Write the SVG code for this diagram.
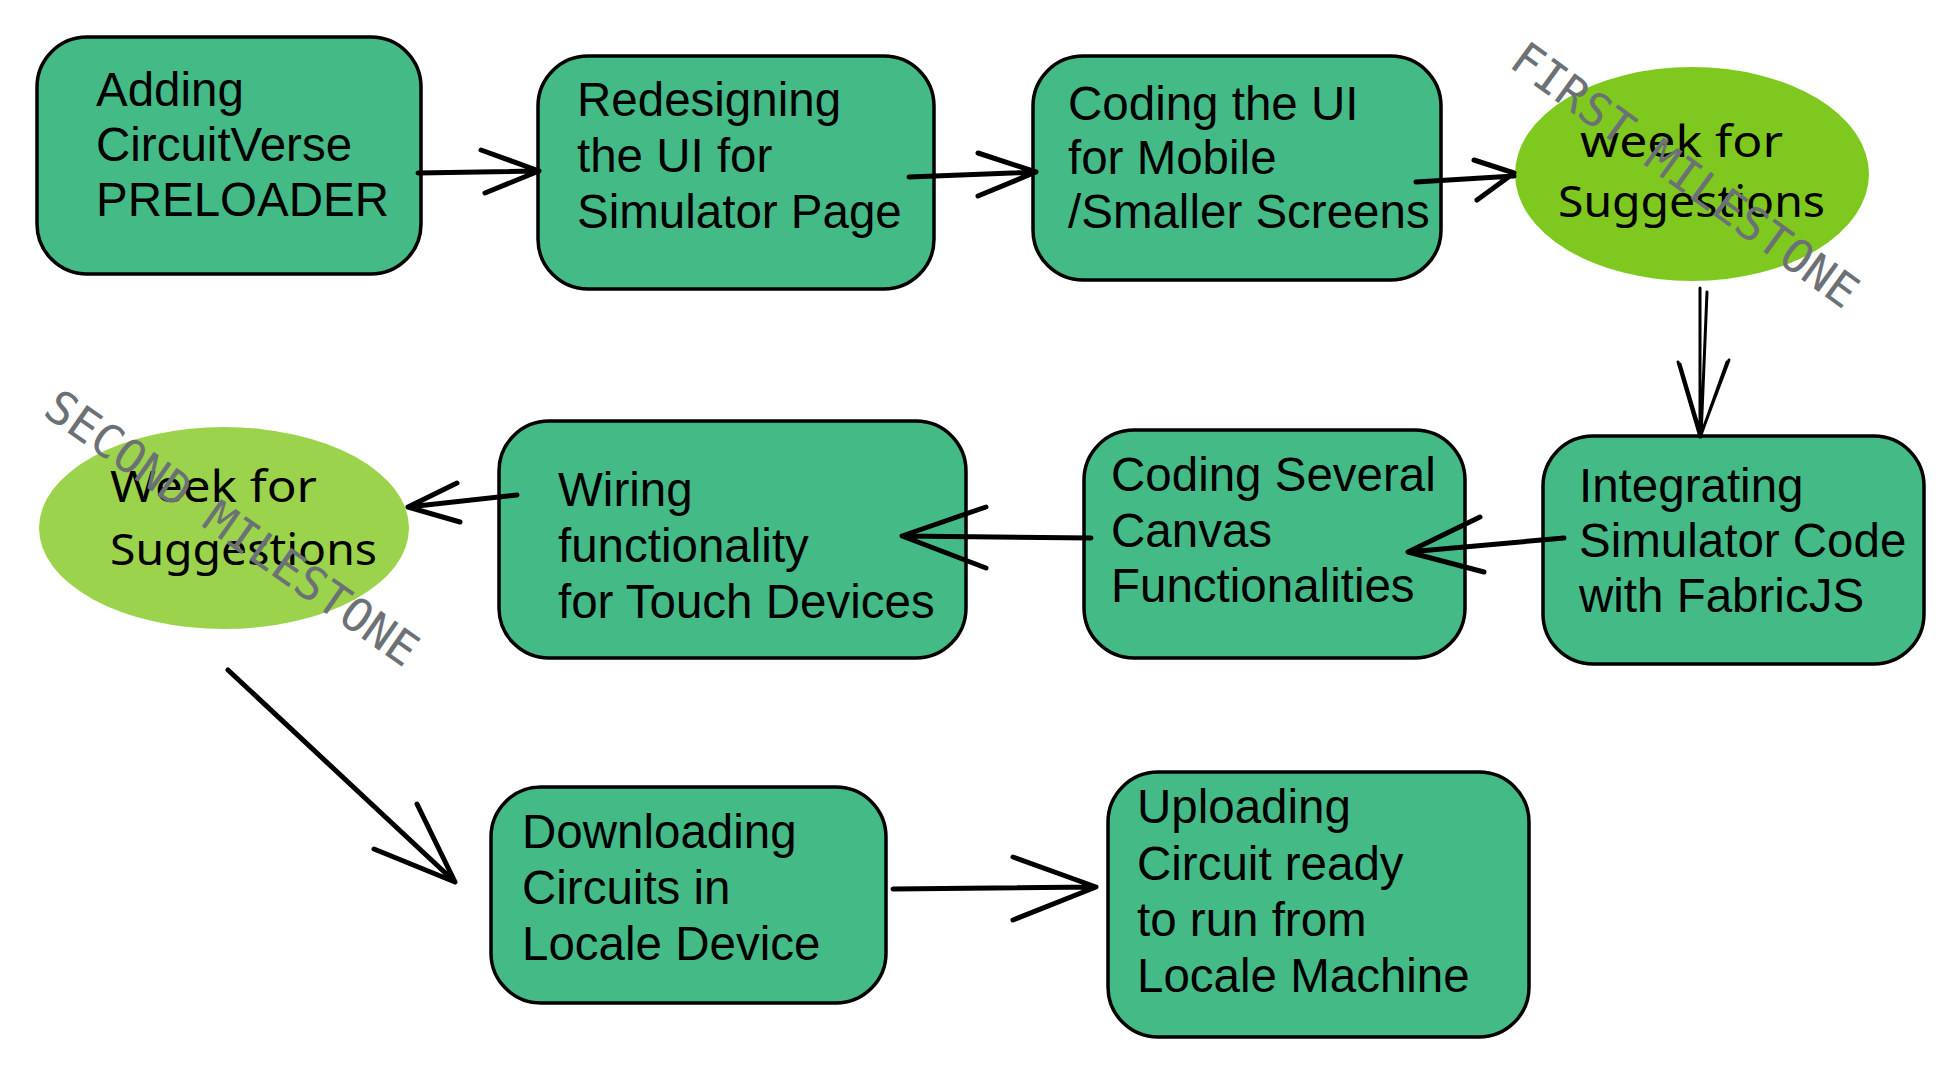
<svg xmlns="http://www.w3.org/2000/svg" width="1953" height="1066" viewBox="0 0 1953 1066">
<style>
.box{fill:#44bb86;stroke:#000;stroke-width:3.5}
.t{font-family:"Liberation Sans",Arial,sans-serif;font-size:47.5px;fill:#000}
.hw{font-family:"Noto Sans","DejaVu Sans",sans-serif;font-size:44px;fill:#000}
.ms{font-family:"DejaVu Sans Mono","Liberation Mono",monospace;font-size:46px;fill:#6c7176}
.c{fill:none;stroke:#000;stroke-width:5;stroke-linecap:round;stroke-linejoin:round}
.thin{fill:none;stroke:#000;stroke-width:3;stroke-linecap:round;stroke-linejoin:round}
</style>
<rect width="1953" height="1066" fill="#fff"/>
<g id="n1"><rect class="box" x="37" y="37" width="384" height="237" rx="50"/>
<text class="t" x="96" y="106">Adding</text><text class="t" x="96" y="161">CircuitVerse</text><text class="t" x="96" y="216">PRELOADER</text></g>
<g id="n2"><rect class="box" x="538" y="56" width="396" height="233" rx="50"/>
<text class="t" x="577" y="116">Redesigning</text><text class="t" x="577" y="172">the UI for</text><text class="t" x="577" y="228">Simulator Page</text></g>
<g id="n3"><rect class="box" x="1033" y="56" width="408" height="224" rx="50"/>
<text class="t" x="1068" y="120">Coding the UI</text><text class="t" x="1068" y="174">for Mobile</text><text class="t" x="1068" y="228">/Smaller Screens</text></g>
<g id="e1"><ellipse cx="1692" cy="174" rx="177" ry="107" fill="#7ec81f"/>
<text class="hw" x="1580" y="157" textLength="203" lengthAdjust="spacingAndGlyphs">week for</text>
<text class="hw" x="1558" y="217" textLength="267" lengthAdjust="spacingAndGlyphs">Suggestions</text></g>
<g id="n4"><rect class="box" x="1543" y="436" width="381" height="228" rx="50"/>
<text class="t" x="1579" y="502">Integrating</text><text class="t" x="1579" y="557">Simulator Code</text><text class="t" x="1579" y="612">with FabricJS</text></g>
<g id="n5"><rect class="box" x="1084" y="430" width="381" height="228" rx="50"/>
<text class="t" x="1111" y="491">Coding Several</text><text class="t" x="1111" y="547">Canvas</text><text class="t" x="1111" y="602">Functionalities</text></g>
<g id="n6"><rect class="box" x="499" y="421" width="467" height="237" rx="50"/>
<text class="t" x="558" y="506">Wiring</text><text class="t" x="558" y="562">functionality</text><text class="t" x="558" y="618">for Touch Devices</text></g>
<g id="e2"><ellipse cx="224" cy="528" rx="185" ry="101" fill="#9bd34c"/>
<text class="hw" x="110" y="502" textLength="207" lengthAdjust="spacingAndGlyphs">Week for</text>
<text class="hw" x="110" y="565" textLength="267" lengthAdjust="spacingAndGlyphs">Suggestions</text></g>
<g id="n7"><rect class="box" x="491" y="787" width="395" height="216" rx="50"/>
<text class="t" x="522" y="848">Downloading</text><text class="t" x="522" y="904">Circuits in</text><text class="t" x="522" y="960">Locale Device</text></g>
<g id="n8"><rect class="box" x="1108" y="772" width="421" height="265" rx="50"/>
<text class="t" x="1137" y="823">Uploading</text><text class="t" x="1137" y="880">Circuit ready</text><text class="t" x="1137" y="936">to run from</text><text class="t" x="1137" y="992">Locale Machine</text></g>
<g id="connectors">
<path class="c" d="M418 173 L539 171 M481 150 L539 171 L485 193"/>
<path class="c" d="M909 177 L1036 172 M978 153 L1036 172 L978 196"/>
<path class="c" d="M1416 182 L1514 176 M1474 160 L1514 173 L1477 200"/>
<path class="thin" d="M1700 288 L1700 437 M1707 292 L1701 437 M1678 362 L1700 437 L1729 360 M1680 364 L1701 435 L1727 362"/>
<path class="c" d="M1564 538 L1408 552 M1480 517 L1408 552 L1484 572"/>
<path class="c" d="M1091 538 L902 536 M986 507 L902 536 L986 568"/>
<path class="c" d="M517 495 L408 507 M457 483 L408 507 L460 522"/>
<path class="c" d="M228 670 L455 882 M374 849 L455 882 L417 804"/>
<path class="c" d="M893 889 L1096 887 M1013 857 L1096 887 L1013 920"/>
</g>
<g id="milestones">
<text class="ms" x="1685" y="175" text-anchor="middle" dominant-baseline="central" transform="rotate(36 1685 175)">FIRST MILESTONE</text>
<text class="ms" x="232" y="528" text-anchor="middle" dominant-baseline="central" transform="rotate(35 232 528)">SECOND MILESTONE</text>
</g>
</svg>
